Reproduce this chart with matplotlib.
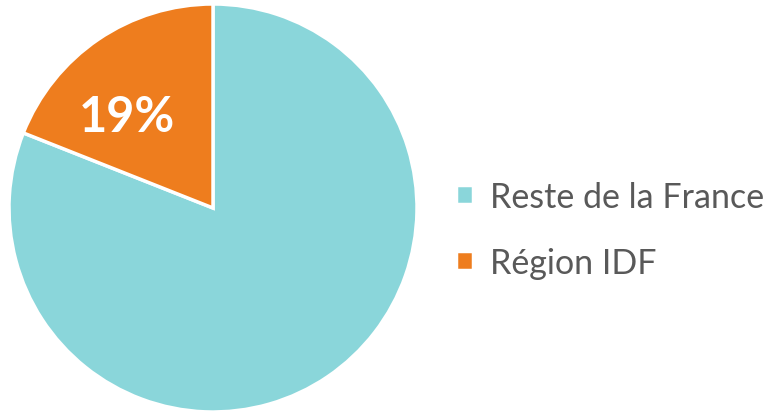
import matplotlib.pyplot as plt

# Share of the total by area
labels = ["Reste de la France", "Région IDF"]
values = [81, 19]
colors = ["#8AD6DA", "#EE7D1E"]

fig = plt.figure(figsize=(7.69, 4.14), dpi=100)
ax = fig.add_axes([9 / 769, 1 / 414, 408 / 769, 408 / 414])

wedges, texts, autotexts = ax.pie(
    values, colors=colors, startangle=90, counterclock=False,
    autopct=lambda p: f"{p:.0f}%" if p < 50 else "", pctdistance=0.6,
    wedgeprops=dict(edgecolor="white", linewidth=2.5),
    textprops=dict(color="white", fontsize=35, fontweight="bold", family="Lato"))
# label sits a bit lower/left than the wedge's mid angle
autotexts[1].set_position((-0.42, 0.45))
ax.set_aspect("equal")
ax.set_xlim(-1, 1)
ax.set_ylim(-1, 1)

fig.legend(wedges, labels, loc="center left", bbox_to_anchor=(425 / 769, 0.443),
           frameon=False, handlelength=0.5, handleheight=0.5, handletextpad=0.5,
           labelspacing=1.0, prop=dict(family="Lato", size=24.5), labelcolor="#595959")

fig.savefig("out.png", dpi=100)
